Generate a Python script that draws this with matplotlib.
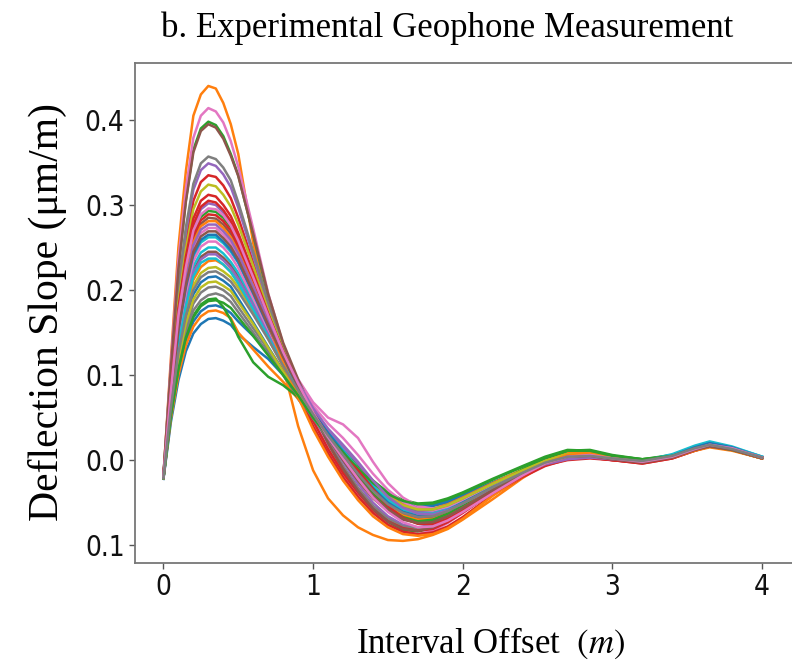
import matplotlib
matplotlib.use("Agg")
import matplotlib.pyplot as plt

plt.rcParams["mathtext.fontset"] = "stix"

# interval offset (m) where the slope was read
offset_m = [0.0, 0.05, 0.1, 0.15, 0.2, 0.25, 0.3, 0.35, 0.4, 0.45, 0.5, 0.6, 0.7, 0.8, 0.9,
            1.0, 1.1, 1.2, 1.3, 1.4, 1.5, 1.6, 1.7, 1.8, 1.9, 2.0, 2.2, 2.4, 2.55, 2.7, 2.85,
            3.0, 3.2, 3.4, 3.55, 3.65, 3.8, 4.0]

# deflection slope (um/m), one list per geophone record
trace_00 = [-0.022, 0.045, 0.094, 0.128, 0.149, 0.160, 0.166, 0.167, 0.164, 0.159, 0.148, 0.133, 0.119, 0.100, 0.072, 0.047, 0.026, 0.007, -0.012, -0.030, -0.043, -0.051, -0.054, -0.053, -0.048, -0.041, -0.026, -0.012, -0.002, 0.005, 0.006, 0.003, 0.000, 0.006, 0.015, 0.019, 0.013, 0.003]
trace_01 = [-0.020, 0.120, 0.250, 0.340, 0.405, 0.430, 0.440, 0.437, 0.420, 0.395, 0.360, 0.255, 0.180, 0.110, 0.040, -0.012, -0.045, -0.065, -0.079, -0.088, -0.094, -0.095, -0.093, -0.088, -0.081, -0.070, -0.046, -0.021, -0.005, 0.006, 0.007, 0.003, 0.000, 0.004, 0.012, 0.016, 0.012, 0.003]
trace_02 = [-0.018, 0.110, 0.227, 0.306, 0.365, 0.390, 0.398, 0.394, 0.381, 0.360, 0.335, 0.265, 0.192, 0.135, 0.092, 0.052, 0.016, -0.014, -0.040, -0.060, -0.074, -0.082, -0.084, -0.080, -0.071, -0.060, -0.036, -0.015, 0.000, 0.011, 0.010, 0.003, -0.002, 0.004, 0.013, 0.017, 0.012, 0.003]
trace_03 = [-0.019, 0.092, 0.191, 0.257, 0.305, 0.327, 0.335, 0.333, 0.323, 0.308, 0.285, 0.232, 0.176, 0.128, 0.089, 0.052, 0.020, -0.008, -0.033, -0.054, -0.069, -0.078, -0.081, -0.078, -0.070, -0.059, -0.037, -0.017, -0.004, 0.004, 0.004, 0.000, -0.004, 0.002, 0.011, 0.016, 0.012, 0.002]
trace_04 = [-0.019, 0.096, 0.200, 0.268, 0.318, 0.341, 0.349, 0.346, 0.336, 0.321, 0.297, 0.240, 0.182, 0.130, 0.090, 0.054, 0.024, -0.002, -0.028, -0.050, -0.066, -0.076, -0.079, -0.076, -0.068, -0.057, -0.035, -0.016, -0.004, 0.003, 0.004, 0.001, -0.002, 0.004, 0.013, 0.018, 0.013, 0.003]
trace_05 = [-0.020, 0.078, 0.164, 0.219, 0.260, 0.278, 0.285, 0.284, 0.277, 0.266, 0.250, 0.208, 0.165, 0.123, 0.087, 0.054, 0.026, 0.000, -0.024, -0.045, -0.060, -0.070, -0.074, -0.072, -0.065, -0.055, -0.035, -0.016, -0.004, 0.004, 0.005, 0.001, -0.003, 0.003, 0.012, 0.016, 0.012, 0.002]
trace_06 = [-0.018, 0.115, 0.236, 0.319, 0.379, 0.405, 0.414, 0.410, 0.397, 0.375, 0.345, 0.272, 0.196, 0.136, 0.091, 0.050, 0.014, -0.016, -0.042, -0.062, -0.076, -0.085, -0.087, -0.083, -0.074, -0.062, -0.038, -0.017, -0.002, 0.007, 0.007, 0.002, -0.002, 0.004, 0.013, 0.018, 0.013, 0.003]
trace_07 = [-0.019, 0.099, 0.204, 0.274, 0.325, 0.349, 0.357, 0.354, 0.344, 0.329, 0.303, 0.245, 0.185, 0.132, 0.090, 0.053, 0.021, -0.007, -0.033, -0.054, -0.069, -0.078, -0.080, -0.077, -0.069, -0.058, -0.036, -0.016, -0.003, 0.005, 0.005, 0.001, -0.003, 0.003, 0.012, 0.016, 0.012, 0.002]
trace_08 = [-0.019, 0.088, 0.185, 0.248, 0.295, 0.316, 0.324, 0.322, 0.312, 0.298, 0.277, 0.228, 0.176, 0.130, 0.092, 0.058, 0.030, 0.004, -0.020, -0.041, -0.057, -0.067, -0.071, -0.069, -0.062, -0.052, -0.032, -0.014, -0.002, 0.006, 0.006, 0.002, -0.001, 0.005, 0.014, 0.018, 0.013, 0.003]
trace_09 = [-0.020, 0.071, 0.150, 0.201, 0.239, 0.256, 0.262, 0.262, 0.255, 0.245, 0.232, 0.196, 0.158, 0.120, 0.086, 0.055, 0.029, 0.005, -0.018, -0.039, -0.055, -0.065, -0.069, -0.067, -0.060, -0.051, -0.032, -0.015, -0.003, 0.004, 0.005, 0.002, -0.002, 0.005, 0.015, 0.020, 0.014, 0.003]
trace_10 = [-0.022, 0.051, 0.103, 0.140, 0.163, 0.175, 0.181, 0.182, 0.179, 0.173, 0.163, 0.146, 0.127, 0.104, 0.078, 0.052, 0.030, 0.010, -0.009, -0.027, -0.041, -0.050, -0.054, -0.054, -0.050, -0.043, -0.028, -0.013, -0.003, 0.004, 0.005, 0.002, -0.001, 0.006, 0.016, 0.021, 0.015, 0.004]
trace_11 = [-0.021, 0.049, 0.100, 0.135, 0.157, 0.169, 0.175, 0.176, 0.173, 0.167, 0.150, 0.130, 0.110, 0.092, 0.072, 0.050, 0.030, 0.010, -0.010, -0.028, -0.042, -0.052, -0.057, -0.057, -0.052, -0.044, -0.027, -0.011, 0.000, 0.008, 0.009, 0.004, 0.000, 0.004, 0.012, 0.016, 0.012, 0.003]
trace_12 = [-0.021, 0.054, 0.108, 0.146, 0.170, 0.183, 0.189, 0.190, 0.180, 0.165, 0.145, 0.115, 0.098, 0.088, 0.074, 0.052, 0.030, 0.012, -0.006, -0.024, -0.038, -0.047, -0.051, -0.050, -0.045, -0.038, -0.022, -0.007, 0.004, 0.012, 0.011, 0.005, 0.001, 0.006, 0.014, 0.018, 0.013, 0.003]
trace_13 = [-0.019, 0.085, 0.178, 0.239, 0.284, 0.305, 0.312, 0.310, 0.300, 0.287, 0.267, 0.220, 0.172, 0.126, 0.085, 0.046, 0.013, -0.015, -0.038, -0.058, -0.072, -0.080, -0.083, -0.081, -0.073, -0.062, -0.038, -0.018, -0.006, 0.002, 0.003, 0.000, -0.003, 0.003, 0.012, 0.017, 0.013, 0.003]
trace_14 = [-0.020, 0.081, 0.172, 0.231, 0.275, 0.295, 0.302, 0.300, 0.291, 0.278, 0.259, 0.215, 0.170, 0.127, 0.090, 0.057, 0.030, 0.008, -0.012, -0.033, -0.050, -0.062, -0.068, -0.068, -0.062, -0.053, -0.034, -0.016, -0.004, 0.003, 0.004, 0.001, -0.002, 0.004, 0.013, 0.018, 0.013, 0.003]
trace_15 = [-0.020, 0.065, 0.140, 0.188, 0.223, 0.239, 0.245, 0.245, 0.238, 0.229, 0.216, 0.184, 0.150, 0.115, 0.083, 0.053, 0.027, 0.004, -0.018, -0.038, -0.054, -0.064, -0.068, -0.067, -0.061, -0.052, -0.033, -0.015, -0.003, 0.005, 0.005, 0.001, -0.002, 0.004, 0.013, 0.017, 0.012, 0.002]
trace_16 = [-0.020, 0.074, 0.156, 0.209, 0.249, 0.267, 0.273, 0.273, 0.265, 0.255, 0.241, 0.205, 0.166, 0.128, 0.095, 0.068, 0.050, 0.042, 0.026, -0.002, -0.027, -0.044, -0.054, -0.057, -0.054, -0.047, -0.030, -0.013, -0.001, 0.006, 0.006, 0.002, -0.001, 0.005, 0.014, 0.019, 0.014, 0.003]
trace_17 = [-0.021, 0.056, 0.116, 0.156, 0.184, 0.197, 0.203, 0.204, 0.200, 0.193, 0.180, 0.155, 0.130, 0.105, 0.080, 0.054, 0.031, 0.010, -0.010, -0.029, -0.044, -0.054, -0.059, -0.059, -0.054, -0.046, -0.029, -0.013, -0.002, 0.005, 0.006, 0.002, -0.001, 0.005, 0.014, 0.018, 0.013, 0.003]
trace_18 = [-0.021, 0.064, 0.129, 0.174, 0.205, 0.220, 0.226, 0.227, 0.222, 0.215, 0.203, 0.175, 0.145, 0.113, 0.083, 0.055, 0.030, 0.007, -0.015, -0.034, -0.050, -0.060, -0.064, -0.063, -0.057, -0.048, -0.030, -0.014, -0.002, 0.006, 0.007, 0.003, 0.000, 0.005, 0.013, 0.017, 0.012, 0.002]
trace_19 = [-0.020, 0.067, 0.143, 0.191, 0.228, 0.244, 0.250, 0.250, 0.243, 0.233, 0.220, 0.187, 0.152, 0.117, 0.086, 0.058, 0.034, 0.012, -0.010, -0.030, -0.047, -0.058, -0.063, -0.062, -0.057, -0.049, -0.031, -0.015, -0.004, 0.002, 0.004, 0.002, -0.001, 0.006, 0.016, 0.021, 0.015, 0.004]
trace_20 = [-0.021, 0.060, 0.123, 0.165, 0.195, 0.209, 0.215, 0.216, 0.211, 0.204, 0.190, 0.162, 0.133, 0.105, 0.077, 0.050, 0.026, 0.004, -0.017, -0.036, -0.051, -0.061, -0.066, -0.065, -0.059, -0.050, -0.032, -0.015, -0.004, 0.003, 0.004, 0.001, -0.002, 0.005, 0.015, 0.020, 0.014, 0.003]
trace_21 = [-0.021, 0.067, 0.134, 0.180, 0.212, 0.227, 0.234, 0.235, 0.230, 0.222, 0.208, 0.176, 0.143, 0.110, 0.080, 0.052, 0.027, 0.004, -0.018, -0.038, -0.054, -0.065, -0.070, -0.069, -0.063, -0.054, -0.034, -0.015, -0.002, 0.007, 0.008, 0.004, 0.000, 0.004, 0.012, 0.016, 0.012, 0.002]
trace_22 = [-0.020, 0.080, 0.168, 0.225, 0.267, 0.286, 0.293, 0.292, 0.285, 0.274, 0.256, 0.214, 0.170, 0.128, 0.091, 0.058, 0.030, 0.005, -0.018, -0.040, -0.056, -0.067, -0.072, -0.070, -0.063, -0.053, -0.031, -0.011, 0.002, 0.011, 0.012, 0.006, 0.001, 0.004, 0.012, 0.016, 0.012, 0.003]
trace_23 = [-0.020, 0.079, 0.166, 0.222, 0.264, 0.282, 0.289, 0.288, 0.281, 0.270, 0.252, 0.211, 0.165, 0.118, 0.078, 0.040, 0.008, -0.020, -0.043, -0.062, -0.076, -0.084, -0.087, -0.085, -0.078, -0.067, -0.041, -0.020, -0.007, 0.001, 0.003, 0.000, -0.004, 0.002, 0.011, 0.016, 0.012, 0.002]
trace_24 = [-0.020, 0.064, 0.138, 0.185, 0.221, 0.236, 0.242, 0.242, 0.235, 0.226, 0.213, 0.182, 0.149, 0.116, 0.086, 0.058, 0.035, 0.016, -0.004, -0.025, -0.042, -0.055, -0.061, -0.062, -0.058, -0.050, -0.032, -0.015, -0.004, 0.003, 0.004, 0.001, -0.002, 0.005, 0.014, 0.019, 0.014, 0.003]
trace_25 = [-0.018, 0.109, 0.225, 0.304, 0.362, 0.387, 0.395, 0.391, 0.378, 0.358, 0.334, 0.266, 0.195, 0.138, 0.095, 0.056, 0.020, -0.010, -0.036, -0.057, -0.072, -0.081, -0.083, -0.079, -0.070, -0.059, -0.036, -0.016, -0.003, 0.005, 0.006, 0.002, -0.002, 0.004, 0.013, 0.017, 0.012, 0.003]
trace_26 = [-0.020, 0.069, 0.147, 0.197, 0.234, 0.251, 0.257, 0.257, 0.250, 0.240, 0.226, 0.190, 0.154, 0.120, 0.090, 0.064, 0.043, 0.026, 0.006, -0.016, -0.035, -0.049, -0.057, -0.059, -0.055, -0.048, -0.031, -0.014, -0.002, 0.005, 0.006, 0.002, -0.001, 0.005, 0.014, 0.019, 0.014, 0.003]
trace_27 = [-0.021, 0.056, 0.112, 0.151, 0.176, 0.188, 0.194, 0.196, 0.193, 0.186, 0.174, 0.150, 0.125, 0.100, 0.075, 0.049, 0.026, 0.006, -0.014, -0.032, -0.046, -0.055, -0.059, -0.058, -0.053, -0.045, -0.028, -0.013, -0.002, 0.005, 0.006, 0.002, -0.001, 0.005, 0.014, 0.018, 0.013, 0.003]
trace_28 = [-0.021, 0.058, 0.119, 0.161, 0.189, 0.203, 0.209, 0.210, 0.205, 0.199, 0.186, 0.160, 0.132, 0.104, 0.078, 0.052, 0.030, 0.010, -0.010, -0.028, -0.043, -0.053, -0.058, -0.058, -0.053, -0.045, -0.028, -0.012, -0.001, 0.007, 0.007, 0.003, 0.000, 0.005, 0.013, 0.017, 0.012, 0.002]
trace_29 = [-0.020, 0.063, 0.135, 0.181, 0.216, 0.232, 0.237, 0.237, 0.230, 0.221, 0.208, 0.177, 0.145, 0.113, 0.083, 0.056, 0.032, 0.011, -0.010, -0.030, -0.047, -0.058, -0.063, -0.063, -0.058, -0.050, -0.032, -0.016, -0.005, 0.001, 0.003, 0.002, -0.001, 0.007, 0.017, 0.022, 0.016, 0.004]
trace_30 = [-0.020, 0.072, 0.152, 0.203, 0.242, 0.259, 0.265, 0.265, 0.257, 0.247, 0.233, 0.196, 0.157, 0.120, 0.087, 0.057, 0.032, 0.010, -0.012, -0.033, -0.050, -0.061, -0.066, -0.065, -0.059, -0.050, -0.032, -0.016, -0.005, 0.002, 0.003, 0.001, -0.002, 0.005, 0.015, 0.020, 0.015, 0.003]
trace_31 = [-0.020, 0.077, 0.161, 0.216, 0.256, 0.275, 0.281, 0.281, 0.273, 0.262, 0.245, 0.205, 0.160, 0.115, 0.074, 0.036, 0.004, -0.024, -0.047, -0.066, -0.079, -0.087, -0.089, -0.087, -0.080, -0.069, -0.042, -0.019, -0.004, 0.006, 0.008, 0.004, 0.000, 0.003, 0.011, 0.015, 0.011, 0.002]
trace_32 = [-0.021, 0.053, 0.107, 0.144, 0.168, 0.181, 0.187, 0.188, 0.185, 0.179, 0.168, 0.146, 0.123, 0.100, 0.076, 0.050, 0.028, 0.009, -0.010, -0.027, -0.040, -0.048, -0.052, -0.051, -0.046, -0.039, -0.023, -0.008, 0.003, 0.011, 0.011, 0.005, 0.001, 0.005, 0.013, 0.017, 0.012, 0.003]
trace_33 = [-0.019, 0.082, 0.173, 0.234, 0.277, 0.298, 0.305, 0.303, 0.294, 0.281, 0.262, 0.217, 0.171, 0.128, 0.090, 0.056, 0.028, 0.005, -0.012, -0.034, -0.054, -0.068, -0.075, -0.075, -0.069, -0.060, -0.039, -0.019, -0.006, 0.000, 0.002, 0.000, -0.003, 0.003, 0.012, 0.017, 0.013, 0.003]
trace_34 = [-0.020, 0.075, 0.159, 0.212, 0.253, 0.271, 0.277, 0.277, 0.269, 0.259, 0.243, 0.204, 0.164, 0.125, 0.091, 0.061, 0.037, 0.018, -0.002, -0.024, -0.043, -0.056, -0.063, -0.064, -0.059, -0.051, -0.033, -0.016, -0.005, 0.001, 0.003, 0.001, -0.002, 0.004, 0.013, 0.018, 0.013, 0.003]
trace_35 = [-0.020, 0.073, 0.154, 0.206, 0.245, 0.263, 0.269, 0.269, 0.261, 0.251, 0.236, 0.198, 0.159, 0.121, 0.087, 0.055, 0.027, 0.002, -0.021, -0.042, -0.058, -0.069, -0.074, -0.073, -0.066, -0.056, -0.035, -0.016, -0.004, 0.004, 0.005, 0.001, -0.003, 0.003, 0.012, 0.016, 0.012, 0.002]
trace_36 = [-0.019, 0.081, 0.170, 0.227, 0.270, 0.289, 0.296, 0.295, 0.288, 0.276, 0.258, 0.215, 0.170, 0.127, 0.090, 0.056, 0.027, 0.002, -0.022, -0.044, -0.061, -0.073, -0.079, -0.078, -0.071, -0.061, -0.039, -0.018, -0.004, 0.004, 0.006, 0.002, -0.002, 0.004, 0.013, 0.018, 0.014, 0.003]
trace_37 = [-0.021, 0.062, 0.126, 0.170, 0.200, 0.215, 0.221, 0.222, 0.217, 0.210, 0.198, 0.171, 0.142, 0.111, 0.082, 0.054, 0.029, 0.006, -0.016, -0.036, -0.052, -0.062, -0.067, -0.066, -0.060, -0.051, -0.032, -0.015, -0.003, 0.004, 0.005, 0.002, -0.001, 0.005, 0.014, 0.018, 0.013, 0.003]

traces = [trace_00, trace_01, trace_02, trace_03, trace_04, trace_05, trace_06, trace_07,
          trace_08, trace_09, trace_10, trace_11, trace_12, trace_13, trace_14, trace_15,
          trace_16, trace_17, trace_18, trace_19, trace_20, trace_21, trace_22, trace_23,
          trace_24, trace_25, trace_26, trace_27, trace_28, trace_29, trace_30, trace_31,
          trace_32, trace_33, trace_34, trace_35, trace_36, trace_37]

x_ticks = [0, 1, 2, 3, 4]
x_tick_labels = ["0", "1", "2", "3", "4"]
y_ticks = [-0.1, 0.0, 0.1, 0.2, 0.3, 0.4]
y_tick_labels = ["0.1", "0.0", "0.1", "0.2", "0.3", "0.4"]

serif_font = ["Liberation Serif", "DejaVu Serif"]

fig = plt.figure(figsize=(7.92, 6.67), dpi=100)
ax = fig.add_axes([135 / 792, 104 / 667, 657 / 792, 500 / 667])

for tr in traces:
    ax.plot(offset_m, tr, lw=1.8, solid_joinstyle="round")

ax.set_xlim(-0.19, 4.2)
ax.set_ylim(-0.121, 0.467)
ax.set_xticks(x_ticks, x_tick_labels)
ax.set_yticks(y_ticks, y_tick_labels)
for lab in ax.get_xticklabels() + ax.get_yticklabels():
    lab.set_fontfamily("DejaVu Sans")
    lab.set_fontstretch("condensed")
    lab.set_fontsize(20)
ax.tick_params(colors="#555555", labelcolor="#111111", length=4, width=1)

ax.spines["right"].set_visible(False)
for side in ["left", "bottom", "top"]:
    ax.spines[side].set_color("#777777")
    ax.spines[side].set_linewidth(1.3)

fig.text(0.5644, 0.958, "b. Experimental Geophone Measurement", family=serif_font,
         fontsize=25, ha="center", va="center")
fig.text(0.060, 0.532, "Deflection Slope (\u03bcm/m)", family=serif_font, fontsize=30,
         rotation=90, ha="center", va="center")
fig.text(0.619, 0.036, "Interval Offset  $(m)$", family=serif_font, fontsize=25,
         ha="center", va="center")

fig.savefig("out.png", dpi=100)
